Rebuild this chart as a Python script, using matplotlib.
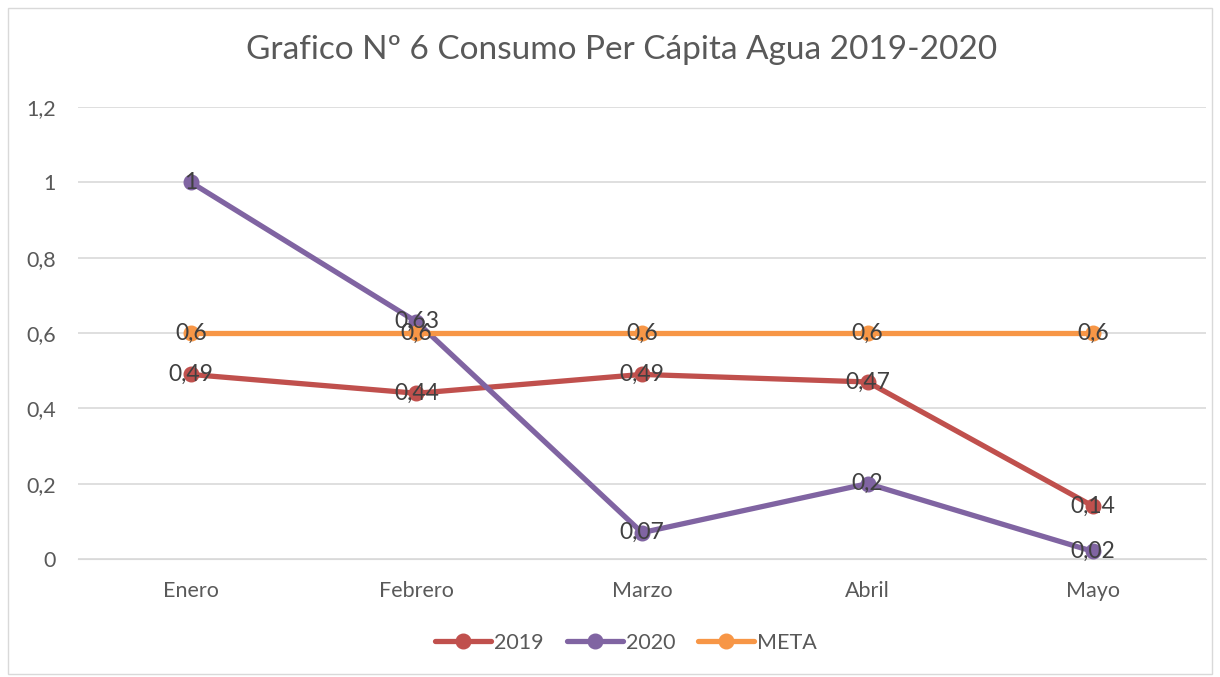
import matplotlib.pyplot as plt
from matplotlib.patches import Rectangle
from matplotlib.ticker import FuncFormatter

meses = ["Enero", "Febrero", "Marzo", "Abril", "Mayo"]
v2019 = [0.49, 0.44, 0.49, 0.47, 0.14]
v2020 = [1, 0.63, 0.07, 0.2, 0.02]
meta = [0.6, 0.6, 0.6, 0.6, 0.6]

series = [("2019", v2019, "#C0504D"), ("2020", v2020, "#8064A2"), ("META", meta, "#F79646")]

plt.rcParams['font.family'] = ['Lato', 'DejaVu Sans']

def coma(v):
    s = ("%g" % v).replace(".", ",")
    return s

fig = plt.figure(figsize=(12.2, 6.77), dpi=100)
ax = fig.add_axes([78 / 1220, 1 - 559 / 677, 1128 / 1220, 452 / 677])

x = list(range(len(meses)))
for nombre, vals, color in series:
    ax.plot(x, vals, color=color, lw=3.8, marker="o", ms=10.5, label=nombre,
            solid_capstyle="round", zorder=3)
for nombre, vals, color in series:
    for xi, v in zip(x, vals):
        ax.text(xi, v, coma(v), ha="center", va="center", fontsize=16.5,
                color="#404040", zorder=4)

ax.set_xlim(-0.5, 4.5)
ax.set_ylim(0, 1.2)
ax.set_yticks([0, 0.2, 0.4, 0.6, 0.8, 1, 1.2])
ax.yaxis.set_major_formatter(FuncFormatter(lambda v, p: coma(round(v, 1))))
ax.set_xticks(x)
ax.set_xticklabels(meses)
ax.grid(axis="y", color="#D9D9D9", lw=1.2)
ax.set_axisbelow(True)
for s in ax.spines.values():
    s.set_visible(False)
ax.spines["bottom"].set_visible(True)
ax.spines["bottom"].set_color("#D9D9D9")
ax.tick_params(length=0, labelsize=15.5, colors="#595959")
ax.tick_params(axis="y", pad=16)
ax.tick_params(axis="x", pad=16)

fig.text(622 / 1220, 1 - 50 / 677, "Grafico Nº 6 Consumo Per Cápita Agua 2019-2020",
         ha="center", va="center", fontsize=24, color="#595959")

fig.legend(loc="center", bbox_to_anchor=(626 / 1220, 1 - 643 / 677), ncol=3, frameon=False,
           fontsize=15.5, labelcolor="#595959", handlelength=2.6, columnspacing=1.05,
           handletextpad=0.15)

fig.patches.append(Rectangle((8 / 1220, 0.004), 1 - 16 / 1220, 1 - 8 / 677 - 0.004,
                             transform=fig.transFigure, fill=False, ec="#D9D9D9", lw=1))

fig.savefig("out.png", dpi=100, facecolor="white")
